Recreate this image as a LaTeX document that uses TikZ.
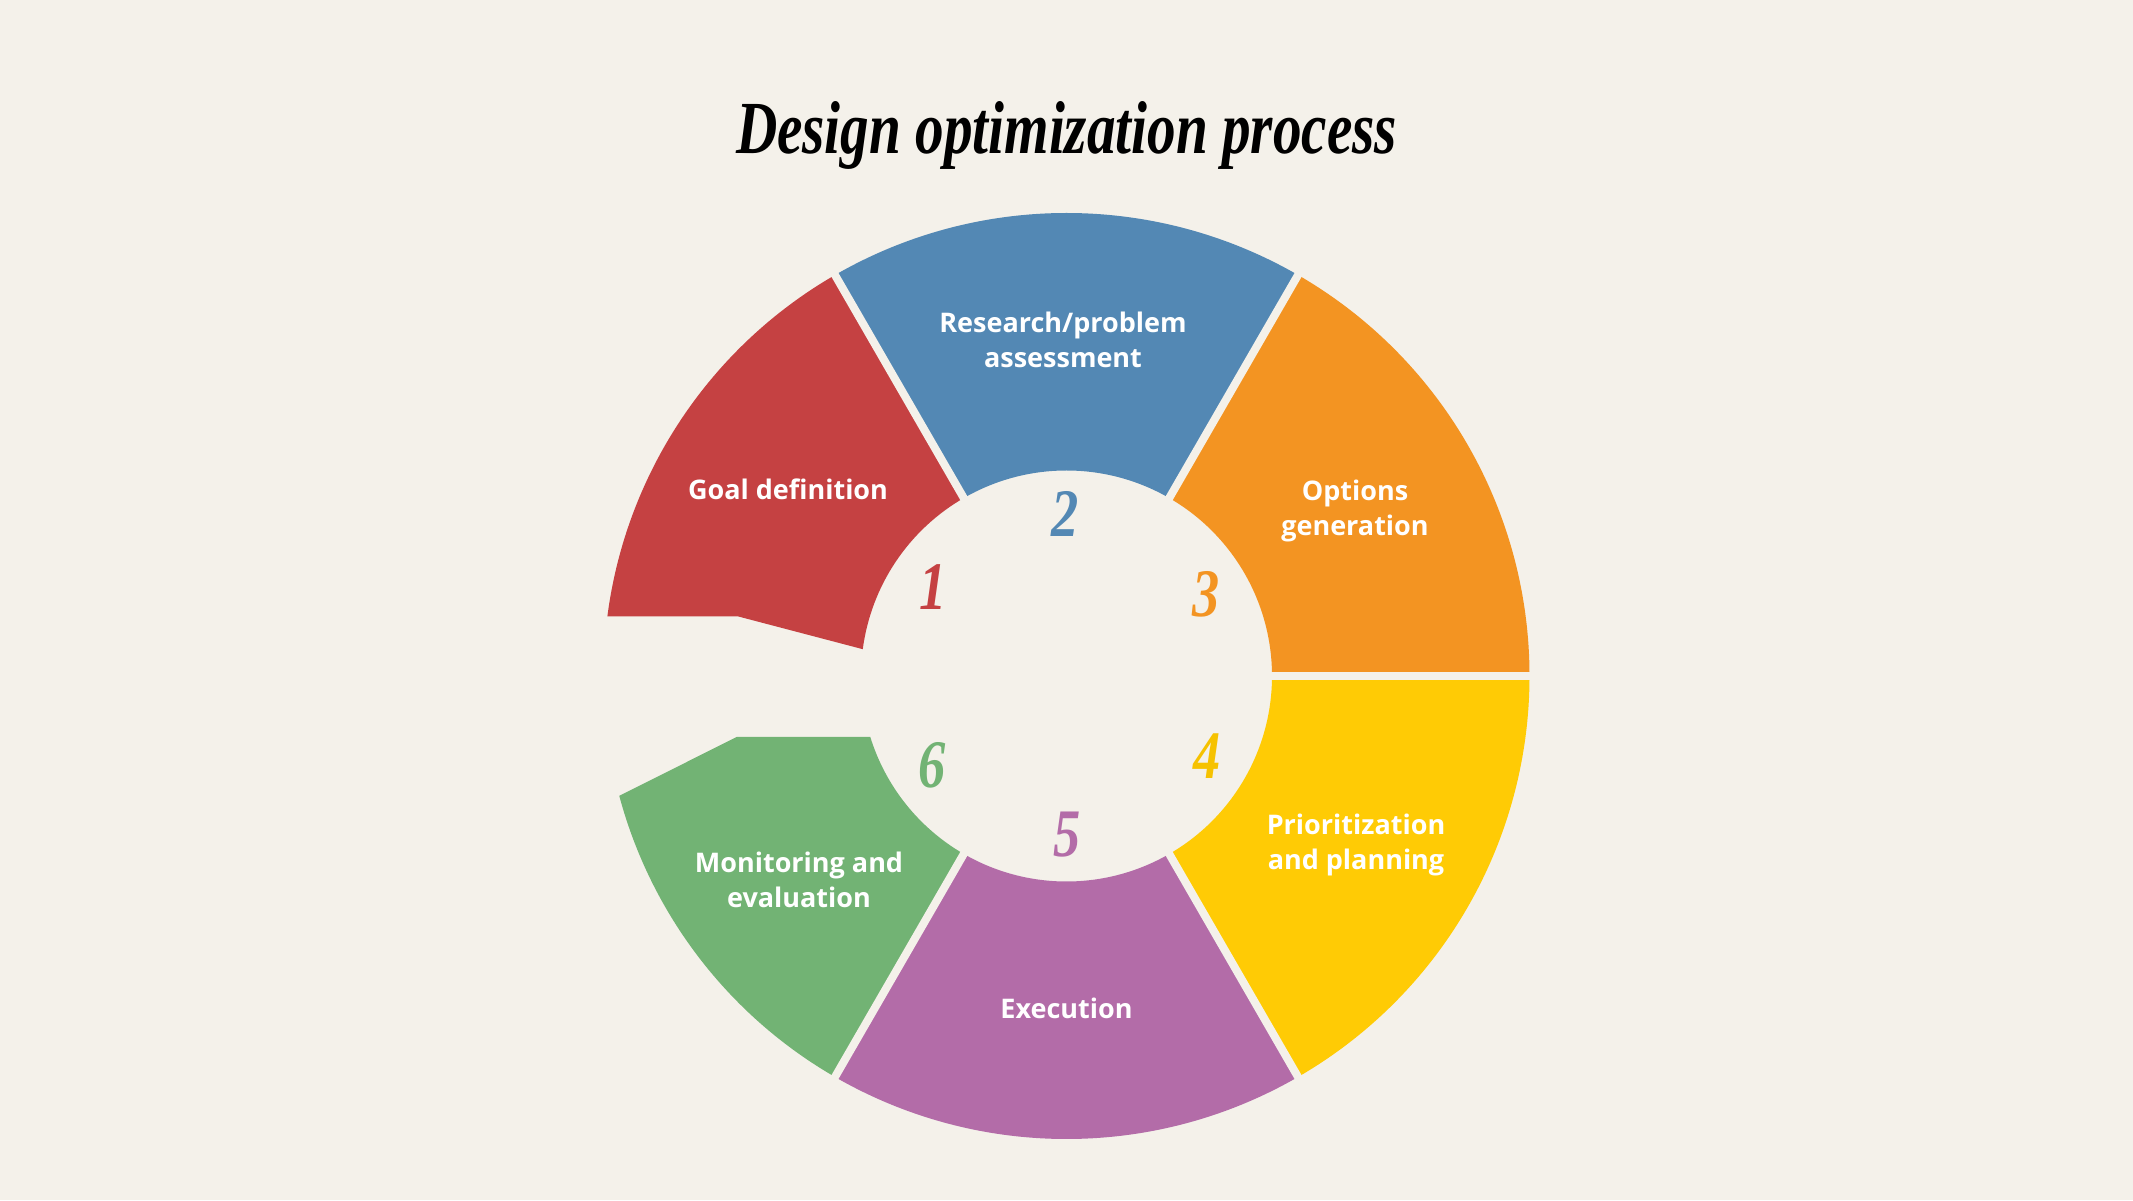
\documentclass[tikz,border=0pt]{standalone}
\usepackage{fontspec}
\usepackage{graphicx}
\newfontfamily\labfont{Open Sans}
\newfontfamily\titfont{Liberation Serif}
\usetikzlibrary{calc}
\definecolor{bg}{HTML}{F4F1EA}
\definecolor{cred}{HTML}{C54142}
\definecolor{cblue}{HTML}{5388B4}
\definecolor{corange}{HTML}{F39422}
\definecolor{cyellow}{HTML}{FFCB05}
\definecolor{cpurple}{HTML}{B36CA8}
\definecolor{cgreen}{HTML}{72B374}
\definecolor{cyelnum}{HTML}{F6C200}
\begin{document}
\begin{tikzpicture}[x=1pt,y=1pt,
  lab/.style={text=white,font=\labfont\bfseries\fontsize{27}{35.5}\selectfont,align=center,inner sep=0pt},
  num/.style={font=\titfont\bfseries\itshape\fontsize{68}{68}\selectfont,inner sep=0pt},
  gapline/.style={draw=bg,line width=8pt}]
\fill[bg] (0,0) rectangle (2133,1200);
\useasboundingbox (0,0) rectangle (2133,1200);
\coordinate (C) at (1066.5,524);
% segments
\fill[cblue] ($(C)+(60:463pt)$) arc[start angle=60,end angle=120,radius=463pt]
  -- ($(C)+(120:205.5pt)$) arc[start angle=120,end angle=60,radius=205.5pt] -- cycle;
\fill[corange] ($(C)+(0:463pt)$) arc[start angle=0,end angle=60,radius=463pt]
  -- ($(C)+(60:205.5pt)$) arc[start angle=60,end angle=0,radius=205.5pt] -- cycle;
\fill[cyellow] ($(C)+(-60:463pt)$) arc[start angle=-60,end angle=0,radius=463pt]
  -- ($(C)+(0:205.5pt)$) arc[start angle=0,end angle=-60,radius=205.5pt] -- cycle;
\fill[cpurple] ($(C)+(-120:463pt)$) arc[start angle=-120,end angle=-60,radius=463pt]
  -- ($(C)+(-60:205.5pt)$) arc[start angle=-60,end angle=-120,radius=205.5pt] -- cycle;
\fill[cred] ($(C)+(120:463pt)$) arc[start angle=120,end angle=172.6,radius=463pt]
  -- (738,583.6) -- ($(C)+(172.5:205.5pt)$) arc[start angle=172.5,end angle=120,radius=205.5pt] -- cycle;
\fill[cgreen] ($(C)+(-120:463pt)$) arc[start angle=-120,end angle=-165,radius=463pt]
  -- (737,463.2) -- ($(C)+(-162.8:205.5pt)$) arc[start angle=-162.8,end angle=-120,radius=205.5pt] -- cycle;
% gaps
\foreach \a in {60,120,0,-60,-120}{
  \draw[gapline] (C) -- ($(C)+(\a:480pt)$);
}
% title
\node (title) [anchor=base,inner sep=0pt] at (1066.5,1046)
  {\resizebox{661pt}{52pt}{\titfont\bfseries\itshape Design optimization process}};
% labels
\node[lab] (l1) at (788,711) {Goal definition};
\node[lab] (l2) at (1063,860) {Research/problem\\assessment};
\node[lab] (l3) at (1355,689) {Options\\generation};
\node[lab] (l4) at (1356,355) {Prioritization\\and planning};
\node[lab] (l5) at (1066.5,192) {Execution};
\node[lab] (l6) at (799,320) {Monitoring and\\evaluation};
% numbers
\node[num,text=cred] (n1) at (933,613) {\scalebox{0.8}[1]{1}};
\node[num,text=cblue] (n2) at (1065,686) {\scalebox{0.8}[1]{2}};
\node[num,text=corange] (n3) at (1206,606) {\scalebox{0.8}[1]{3}};
\node[num,text=cyelnum] (n4) at (1207,444) {\scalebox{0.8}[1]{4}};
\node[num,text=cpurple] (n5) at (1067,365) {\scalebox{0.8}[1]{5}};
\node[num,text=cgreen] (n6) at (932,435) {\scalebox{0.8}[1]{6}};
\end{tikzpicture}
\end{document}
